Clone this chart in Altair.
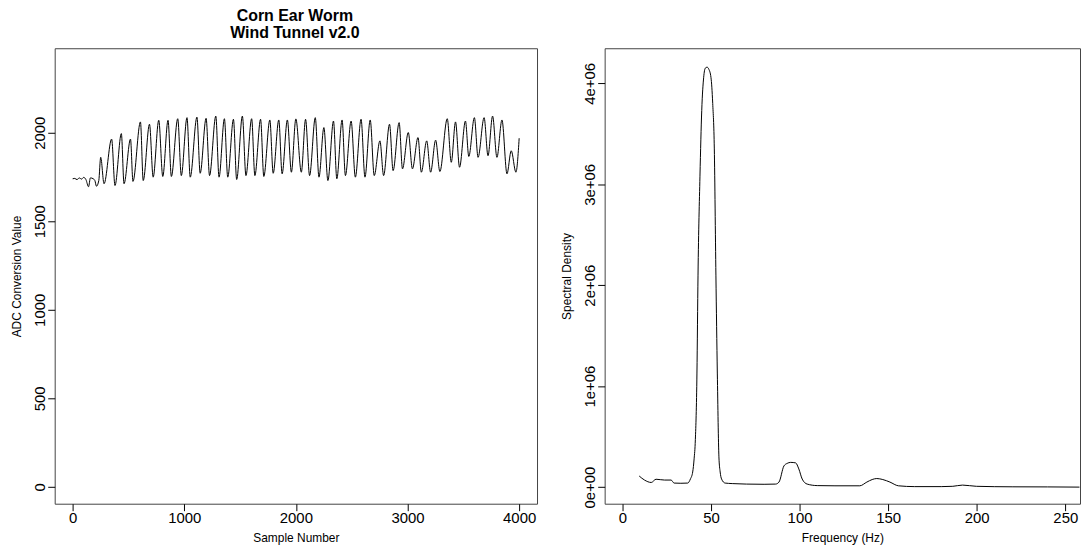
import altair as alt
import pandas as pd

FONT = "Liberation Sans"
TITLE_LINES = ["Corn Ear Worm", "Wind Tunnel v2.0"]

# ---- left panel: raw ADC signal (turning points) ----
sample_number = [
    1, 20, 40, 60, 80, 100, 120, 143, 160, 185, 200, 214, 235,
    252, 282, 350, 380, 437, 461, 519, 541, 608, 633, 689, 722,
    772, 808, 855, 885, 942, 974, 1025, 1054, 1114, 1143, 1196, 1227,
    1283, 1312, 1360, 1390, 1441, 1470, 1521, 1553, 1604, 1633, 1684, 1713,
    1767, 1797, 1847, 1877, 1924, 1960, 2000, 2049, 2087, 2123, 2174, 2207,
    2251, 2287, 2337, 2367, 2414, 2444, 2495, 2533, 2584, 2619, 2666, 2702,
    2753, 2786, 2839, 2871, 2925, 2955, 3007, 3044, 3094, 3124, 3172, 3207,
    3252, 3290, 3356, 3392, 3430, 3466, 3519, 3549, 3599, 3632, 3686, 3721,
    3762, 3801, 3846, 3891, 3929, 3971, 4000,
]
adc_value = [
    1740, 1742, 1735, 1745, 1738, 1748, 1735, 1695, 1745, 1740, 1730, 1698, 1730,
    1861, 1712, 1964, 1702, 1995, 1712, 1964, 1725, 2061, 1730, 2048, 1749,
    2070, 1753, 2070, 1753, 2079, 1758, 2085, 1749, 2088, 1771, 2081, 1758,
    2094, 1749, 2079, 1749, 2076, 1736, 2094, 1758, 2079, 1758, 2076, 1753,
    2072, 1771, 2072, 1768, 2072, 1777, 2078, 1777, 2076, 1758, 2085, 1749,
    2029, 1730, 2066, 1740, 2072, 1758, 2066, 1749, 2076, 1749, 2072, 1758,
    1954, 1758, 2048, 1786, 2057, 1796, 2001, 1796, 1973, 1777, 1954, 1777,
    1958, 1781, 2079, 1833, 2061, 1805, 2066, 1866, 2085, 1861, 2085, 1870,
    2094, 1861, 2072, 1768, 1898, 1777, 1969,
]

# ---- right panel: spectral density ----
freq_hz = [
    9.5, 12.5, 16.3, 19, 23.8, 27.5, 29.2, 33, 36.9, 38.4, 39.7, 40.5, 41.2,
    42.1, 42.7, 43.8, 44.8, 45.9, 46.8, 47.8, 48.8, 50.0, 51.0, 51.9, 52.8,
    53.6, 54.5, 55.2, 56.0, 58, 62, 70, 80, 86.5, 88.4, 91.2, 93, 95, 97.8,
    99.6, 101.5, 104.3, 110, 120, 134, 138, 141, 143.6, 147, 151, 155.8, 165,
    180, 186.5, 192, 199.8, 220, 240, 258,
]
spectral_density = [
    110000, 70000, 46000, 78000, 70000, 70000, 40000, 38000, 40000, 80000,
    150000, 280000, 470000, 1130000, 2100000, 3080000, 3730000, 4060000,
    4150000, 4160000, 4140000, 4060000, 3800000, 3350000, 2100000, 1130000,
    300000, 150000, 80000, 40000, 35000, 30000, 28000, 30000, 50000, 210000,
    235000, 245000, 240000, 180000, 80000, 30000, 15000, 13000, 13000, 50000,
    75000, 85000, 75000, 50000, 13000, 5000, 5000, 8000, 20000, 8000, 3000,
    2000, 0,
]

left_x_ticks = [0, 1000, 2000, 3000, 4000]
left_y_ticks = [0, 500, 1000, 1500, 2000]
right_x_ticks = [0, 50, 100, 150, 200, 250]
right_y_ticks = [0, 1000000, 2000000, 3000000, 4000000]


def x_axis(title, values):
    return alt.Axis(
        title=title, values=values, format="d", domain=False, grid=False,
        tickColor="black", tickSize=7, tickWidth=1,
        labelFont=FONT, labelFontSize=15, labelColor="black", labelPadding=0,
        labelFlush=False, labelOverlap=False,
        titleFont=FONT, titleFontSize=12, titleFontWeight="normal",
        titleColor="black", titlePadding=7,
    )


def y_axis(title, values, label_expr=None):
    kw = dict(
        title=title, values=values, format="d", domain=False, grid=False,
        tickColor="black", tickSize=7, tickWidth=1,
        labelFont=FONT, labelFontSize=15, labelColor="black", labelPadding=0,
        labelAngle=270, labelAlign="center", labelBaseline="bottom",
        labelFlush=False, labelOverlap=False,
        titleFont=FONT, titleFontSize=12, titleFontWeight="normal",
        titleColor="black", titlePadding=9,
    )
    if label_expr:
        kw["labelExpr"] = label_expr
    return alt.Axis(**kw)


left_df = pd.DataFrame({"sample": sample_number, "adc": adc_value})
right_df = pd.DataFrame({"freq": freq_hz, "dens": spectral_density})

left = alt.Chart(left_df).mark_line(
    color="black", strokeWidth=1, interpolate="monotone", clip=True
).encode(
    x=alt.X("sample:Q", scale=alt.Scale(domain=[-160, 4160], nice=False, zero=False),
            axis=x_axis("Sample Number", left_x_ticks)),
    y=alt.Y("adc:Q", scale=alt.Scale(domain=[-95, 2477], nice=False, zero=False),
            axis=y_axis("ADC Conversion Value", left_y_ticks)),
).properties(width=485, height=458)

right = alt.Chart(right_df).mark_line(
    color="black", strokeWidth=1, interpolate="monotone", clip=True
).encode(
    x=alt.X("freq:Q", scale=alt.Scale(domain=[-10, 258.3], nice=False, zero=False),
            axis=x_axis("Frequency (Hz)", right_x_ticks)),
    y=alt.Y("dens:Q", scale=alt.Scale(domain=[-164500, 4347500], nice=False, zero=False),
            axis=y_axis("Spectral Density", right_y_ticks,
                        "datum.value == 0 ? '0e+00' : (datum.value / 1000000) + 'e+06'")),
).properties(width=478, height=458)

chart = alt.hconcat(left, right, spacing=22).properties(
    title=alt.TitleParams(
        TITLE_LINES, anchor="start", align="center", dx=286,
        font=FONT, fontSize=16, fontWeight="bold", color="black",
        lineHeight=17, offset=7,
    ),
    padding={"left": 10, "top": 6, "right": 0, "bottom": 0},
    background="white",
).configure_view(stroke="#444", strokeWidth=1)

chart.save("out.html", embed_options={"renderer": "svg", "actions": False})
